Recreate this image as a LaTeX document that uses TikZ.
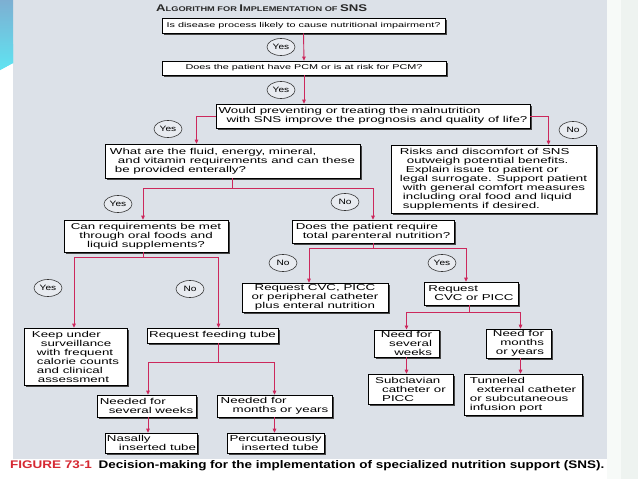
\documentclass[tikz,border=0pt]{standalone}
\usepackage{fontspec}
\setmainfont{Liberation Sans}
\newfontfamily\bxfont[FakeStretch=1.55]{Liberation Sans}
\newfontfamily\lblfont[FakeStretch=1.3]{Liberation Sans}
\usetikzlibrary{shadows,arrows.meta,shapes.geometric}
\definecolor{panel}{RGB}{220,225,232}
\definecolor{rightbg}{RGB}{238,243,240}
\definecolor{arrc}{RGB}{204,40,92}
\definecolor{capred}{RGB}{214,40,50}
\definecolor{shd}{RGB}{70,70,70}
\definecolor{ttl}{RGB}{40,40,40}
\definecolor{blueA}{RGB}{125,175,210}
\definecolor{blueM}{RGB}{110,200,226}
\definecolor{blueB}{RGB}{95,228,242}
\newcommand\ind[1]{\hspace*{#1pt}}
\begin{document}
\begin{tikzpicture}[x=1pt,y=-1pt,
  box/.style={draw=black, line width=0.6pt, fill=white, inner sep=1.5pt,
    align=left, font=\bxfont\fontsize{8.6}{9}\selectfont,
    drop shadow={shadow xshift=1.6pt, shadow yshift=-1.6pt, fill=shd, opacity=1}},
  smallbox/.style={box, font=\bxfont\fontsize{7}{8}\selectfont},
  lbl/.style={draw=black!80, line width=0.6pt, ellipse, fill=white!35!panel,
    minimum width=28pt, minimum height=17pt, inner sep=0pt,
    font=\lblfont\fontsize{7.8}{8}\selectfont},
  arr/.style={draw=arrc, line width=0.9pt, -{Triangle[length=4pt,width=3.5pt]}},
  ln/.style={draw=arrc, line width=0.9pt}]
\useasboundingbox (0,0) rectangle (638,479);
% background
\fill[white] (0,0) rectangle (638,479);
\fill[rightbg] (621,0) rectangle (638,479);
\fill[white!55!rightbg] (607,0) rectangle (621,479);
\fill[panel] (13,0) rectangle (607,459);
\fill[blueA] (0,0) rectangle (13,22);
\fill[blueM] (0,22) rectangle (13,44);
\fill[blueB] (0,44) -- (13,44) -- (13,63) -- (0,70) -- cycle;
\shade[top color=blueA, bottom color=blueB] (0,0) -- (13,0) -- (13,63) -- (0,70) -- cycle;

% title
\node[anchor=west, inner sep=0pt, text=ttl] (title) at (156,8.5)
  {\resizebox{211pt}{6.8pt}{\bfseries A{\fontsize{7}{8}\selectfont LGORITHM FOR }I{\fontsize{7}{8}\selectfont MPLEMENTATION OF }SNS}};

% boxes
\node[smallbox, align=center, minimum width=283pt, minimum height=15pt] (b1) at (303.5,25.5)
  {Is disease process likely to cause nutritional impairment?};
\node[smallbox, align=center, minimum width=284pt, minimum height=14pt] (b2) at (304,68)
  {Does the patient have PCM or is at risk for PCM?};
\node[box, minimum width=314pt, minimum height=24pt] (b3) at (373,116)
  {Would preventing or treating the malnutrition\\\ind{8}with SNS improve the prognosis and quality of life?};
\node[box, minimum width=255pt, minimum height=34pt] (b4) at (232.5,161)
  {What are the fluid, energy, mineral,\\\ind{8}and vitamin requirements and can these\\\ind{5}be provided enterally?};
\node[box, minimum width=205pt, minimum height=68pt] (b5) at (493.5,179)
  {Risks and discomfort of SNS\\\ind{7}outweigh potential benefits.\\\ind{6}Explain issue to patient or\\legal surrogate. Support patient\\\ind{3}with general comfort measures\\\ind{3}including oral food and liquid\\\ind{3}supplements if desired.};
\node[box, align=center, minimum width=164pt, minimum height=32pt] (b6) at (146,236)
  {Can requirements be met\\through oral foods and\\liquid supplements?};
\node[box, minimum width=162pt, minimum height=23pt] (b7) at (373,231.5)
  {Does the patient require\\\ind{7}total parenteral nutrition?};
\node[box, minimum width=103pt, minimum height=57pt] (b8) at (75.5,356.5)
  {Keep under\\\ind{9}surveillance\\\ind{5}with frequent\\\ind{5}calorie counts\\\ind{5}and clinical\\\ind{6}assessment};
\node[box, align=center, minimum width=131pt, minimum height=15pt] (b9) at (212.5,335.5)
  {Request feeding tube};
\node[box, align=center, minimum width=146pt, minimum height=29pt] (b10) at (315,297.5)
  {Request CVC, PICC\\or peripheral catheter\\plus enteral nutrition};
\node[box, minimum width=94pt, minimum height=23pt] (b11) at (471,293.5)
  {Request\\\ind{6}CVC or PICC};
\node[box, align=right, minimum width=65pt, minimum height=27pt] (b12) at (406.5,343.5)
  {Need for\\several\\weeks};
\node[box, align=right, minimum width=65pt, minimum height=27pt] (b13) at (518.5,343.5)
  {Need for\\months\\or years};
\node[box, minimum width=85pt, minimum height=30pt] (b14) at (410.5,389)
  {Subclavian\\\ind{7}catheter or\\\ind{7}PICC};
\node[box, minimum width=118pt, minimum height=41pt] (b15) at (523,394.5)
  {Tunneled\\\ind{7}external catheter\\or subcutaneous\\infusion port};
\node[box, minimum width=99pt, minimum height=22pt] (b16) at (146.5,406)
  {Needed for\\\ind{9}several weeks};
\node[box, minimum width=115pt, minimum height=22pt] (b17) at (274.5,406)
  {Needed for\\\ind{12}months or years};
\node[box, minimum width=91pt, minimum height=20pt] (b18) at (151.5,443)
  {Nasally\\\ind{12}inserted tube};
\node[box, minimum width=97pt, minimum height=20pt] (b19) at (275.5,443)
  {Percutaneously\\\ind{12}inserted tube};

% connectors
\draw[arr] (b1.south) -- (b2.north);
\draw[arr] (b2.south) -- (b2.south |- b3.north);
\draw[arr] (b3.west) -| ([xshift=-36pt]b4.north);
\draw[arr] (b3.east) -| ([xshift=55pt]b5.north);
\draw[ln] (b4.south) -- ++(0,10) coordinate (j4);
\draw[arr] (j4) -| ([xshift=-3pt]b6.north);
\draw[arr] (j4) -| (b7.north);
\draw[ln] ([xshift=-3pt]b6.south) -- ++(0,5) coordinate (j6);
\draw[arr] (j6) -| ([xshift=-1.5pt]b8.north);
\draw[arr] (j6) -| ([xshift=6pt]b9.north);
\draw[ln] (b7.south) -- ++(0,5) coordinate (j7);
\draw[arr] (j7) -| ([xshift=-6pt]b10.north);
\draw[arr] (j7) -| ([xshift=-5pt]b11.north);
\draw[ln] ([xshift=-2pt]b11.south) -- ++(0,7) coordinate (j11);
\draw[arr] (j11) -| (b12.north);
\draw[arr] (j11) -| ([xshift=2pt]b13.north);
\draw[arr] (b12.south) -- (b12.south |- b14.north);
\draw[arr] ([xshift=2pt]b13.south) -- ([xshift=2pt]b13.south |- b15.north);
\draw[ln] ([xshift=6pt]b9.south) -- ++(0,19) coordinate (j9);
\draw[arr] (j9) -| ([xshift=1.5pt]b16.north);
\draw[arr] (j9) -| (b17.north);
\draw[arr] ([xshift=1.5pt]b16.south) -- ([xshift=1.5pt]b16.south |- b18.north);
\draw[arr] (b17.south) -- (b17.south |- b19.north);

% yes / no labels
\node[lbl] (y1) at (281,47) {Yes};
\node[lbl] (y2) at (281,90) {Yes};
\node[lbl] (y3) at (168,129) {Yes};
\node[lbl] (n3) at (573,130) {No};
\node[lbl] (y4) at (118,204) {Yes};
\node[lbl] (n4) at (345,202) {No};
\node[lbl] (y6) at (48,288) {Yes};
\node[lbl] (n6) at (190,289) {No};
\node[lbl] (n7) at (283,263) {No};
\node[lbl] (y7) at (442,263) {Yes};

% caption
\node[anchor=south west, inner sep=0pt] (cap) at (10,471)
  {\resizebox{594pt}{8pt}{\bfseries\textcolor{capred}{FIGURE 73-1}\hspace{0.5em}Decision-making for the implementation of specialized nutrition support (SNS).}};
\end{tikzpicture}
\end{document}
